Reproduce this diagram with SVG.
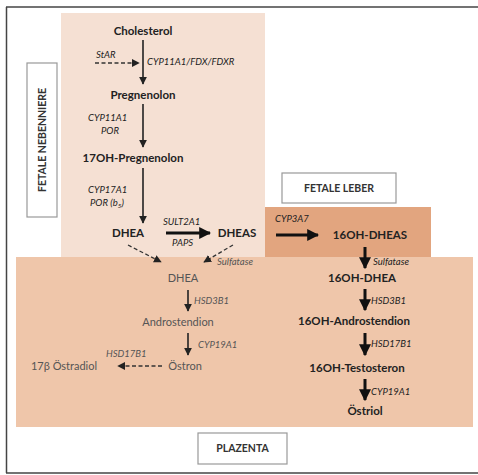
<svg xmlns="http://www.w3.org/2000/svg" width="478" height="475" viewBox="0 0 478 475">
<defs>
<style>
.t{font-family:Lato,"Liberation Sans",sans-serif;fill:#222;}
.b{font-weight:bold;font-size:11.5px;}
.s{font-size:9.5px;font-style:italic;}
.g{fill:#555;font-size:11px;}
.gs{fill:#555;font-size:9.5px;font-style:italic;}
.lbl{font-weight:bold;font-size:10.5px;fill:#333;}
.ln{stroke:#222;stroke-width:1.6;fill:none;}
.dash{stroke:#333;stroke-width:1.3;fill:none;stroke-dasharray:4 2.5;}
.thick{stroke:#111;stroke-width:3;fill:none;}
.box{fill:#fff;stroke:#999;stroke-width:1.2;}
</style>
<marker id="ah" viewBox="0 0 10 10" refX="9" refY="5" markerWidth="5" markerHeight="5" orient="auto" markerUnits="strokeWidth"><path d="M0,0 L10,5 L0,10 z" fill="#222"/></marker>
<marker id="ahd" viewBox="0 0 10 10" refX="9" refY="5" markerWidth="6" markerHeight="6" orient="auto" markerUnits="strokeWidth"><path d="M0,0 L10,5 L0,10 z" fill="#222"/></marker>
<marker id="aht" viewBox="0 0 10 10" refX="9" refY="5" markerWidth="4" markerHeight="4" orient="auto" markerUnits="strokeWidth"><path d="M0,0 L10,5 L0,10 z" fill="#111"/></marker>
</defs>
<rect width="478" height="475" fill="#fff"/>
<g id="frame">
<line x1="6" y1="7" x2="478" y2="7" stroke="#444" stroke-width="1.5"/>
<line x1="6.5" y1="7" x2="6.5" y2="473" stroke="#444" stroke-width="1.5"/>
<line x1="6" y1="473" x2="478" y2="473" stroke="#444" stroke-width="1.5"/>
</g>
<g id="regions">
<rect id="nebenniere-region" x="61" y="13" width="204" height="245" fill="#f5e0d3"/>
<rect id="leber-region" x="265" y="207" width="166" height="50" fill="#e2a57f"/>
<rect id="plazenta-region" x="16" y="257" width="457" height="170" fill="#efc6aa"/>
</g>
<g id="label-nebenniere">
<rect class="box" x="27" y="63" width="30" height="154"/>
<text class="t lbl" transform="translate(46,140) rotate(-90)" text-anchor="middle">FETALE NEBENNIERE</text>
</g>
<g id="label-leber">
<rect class="box" x="282" y="173" width="114" height="30"/>
<text class="t lbl" x="339" y="192" text-anchor="middle">FETALE LEBER</text>
</g>
<g id="label-plazenta">
<rect class="box" x="198" y="433" width="89" height="31"/>
<text class="t lbl" x="242.5" y="452" text-anchor="middle">PLAZENTA</text>
</g>
<g id="n-cholesterol"><text class="t b" x="143" y="35" text-anchor="middle">Cholesterol</text></g>
<g id="n-pregnenolon"><text class="t b" x="143" y="99" text-anchor="middle">Pregnenolon</text></g>
<g id="n-17oh-preg"><text class="t b" x="133" y="162" text-anchor="middle">17OH-Pregnenolon</text></g>
<g id="n-dhea"><text class="t b" x="128" y="237" text-anchor="middle">DHEA</text></g>
<g id="n-dheas"><text class="t b" x="237" y="237" text-anchor="middle">DHEAS</text></g>
<g id="n-16oh-dheas"><text class="t b" x="370" y="239" text-anchor="middle">16OH-DHEAS</text></g>
<g id="n-16oh-dhea"><text class="t b" x="362" y="282" text-anchor="middle">16OH-DHEA</text></g>
<g id="n-16oh-andro"><text class="t b" x="354" y="325" text-anchor="middle">16OH-Androstendion</text></g>
<g id="n-16oh-testo"><text class="t b" x="357" y="372" text-anchor="middle">16OH-Testosteron</text></g>
<g id="n-oestriol"><text class="t b" x="365" y="415" text-anchor="middle">Östriol</text></g>
<g id="n-p-dhea"><text class="t g" x="183" y="282" text-anchor="middle">DHEA</text></g>
<g id="n-p-andro"><text class="t g" x="178" y="326" text-anchor="middle">Androstendion</text></g>
<g id="n-p-oestron"><text class="t g" x="185" y="370" text-anchor="middle">Östron</text></g>
<g id="n-p-oestradiol"><text class="t g" x="64" y="370" text-anchor="middle">17β Östradiol</text></g>
<g id="connectors">
<line class="ln" x1="143" y1="40" x2="143" y2="84" marker-end="url(#ah)"/>
<line class="dash" x1="95" y1="63" x2="139" y2="63" marker-end="url(#ahd)"/>
<line class="ln" x1="143" y1="104" x2="143" y2="147" marker-end="url(#ah)"/>
<line class="ln" x1="143" y1="168" x2="143" y2="223" marker-end="url(#ah)"/>
<line class="thick" x1="166" y1="233" x2="210" y2="233" marker-end="url(#aht)"/>
<line class="dash" x1="128" y1="245" x2="161" y2="262" marker-end="url(#ahd)"/>
<line class="dash" x1="233" y1="245" x2="204" y2="262" marker-end="url(#ahd)"/>
<line class="thick" x1="276" y1="235" x2="318" y2="235" marker-end="url(#aht)"/>
<line class="thick" x1="365" y1="247" x2="365" y2="268" marker-end="url(#aht)"/>
<line class="thick" x1="365" y1="289" x2="365" y2="310" marker-end="url(#aht)"/>
<line class="thick" x1="365" y1="333" x2="365" y2="355" marker-end="url(#aht)"/>
<line class="thick" x1="365" y1="379" x2="365" y2="400" marker-end="url(#aht)"/>
<line class="ln" x1="188" y1="290" x2="188" y2="311" marker-end="url(#ah)"/>
<line class="ln" x1="188" y1="333" x2="188" y2="355" marker-end="url(#ah)"/>
<line class="dash" x1="162" y1="366" x2="118" y2="366" marker-end="url(#ahd)"/>
</g>
<g id="enzymes">
<text class="t s" x="96" y="58">StAR</text>
<text class="t s" x="147" y="65">CYP11A1/FDX/FDXR</text>
<text class="t s" x="88" y="121">CYP11A1</text>
<text class="t s" x="101" y="134">POR</text>
<text class="t s" x="88" y="193">CYP17A1</text>
<text class="t s" x="90" y="206">POR (b<tspan font-size="6.5" dy="2">5</tspan><tspan dy="-2">)</tspan></text>
<text class="t s" x="163" y="225">SULT2A1</text>
<text class="t s" x="172" y="246">PAPS</text>
<text class="t gs" x="217" y="265">Sulfatase</text>
<text class="t s" x="275" y="222">CYP3A7</text>
<text class="t s" x="373" y="265">Sulfatase</text>
<text class="t s" x="371" y="304">HSD3B1</text>
<text class="t s" x="371" y="347">HSD17B1</text>
<text class="t s" x="371" y="395">CYP19A1</text>
<text class="t gs" x="194" y="304">HSD3B1</text>
<text class="t gs" x="198" y="348">CYP19A1</text>
<text class="t gs" x="106" y="357">HSD17B1</text>
</g>
</svg>
